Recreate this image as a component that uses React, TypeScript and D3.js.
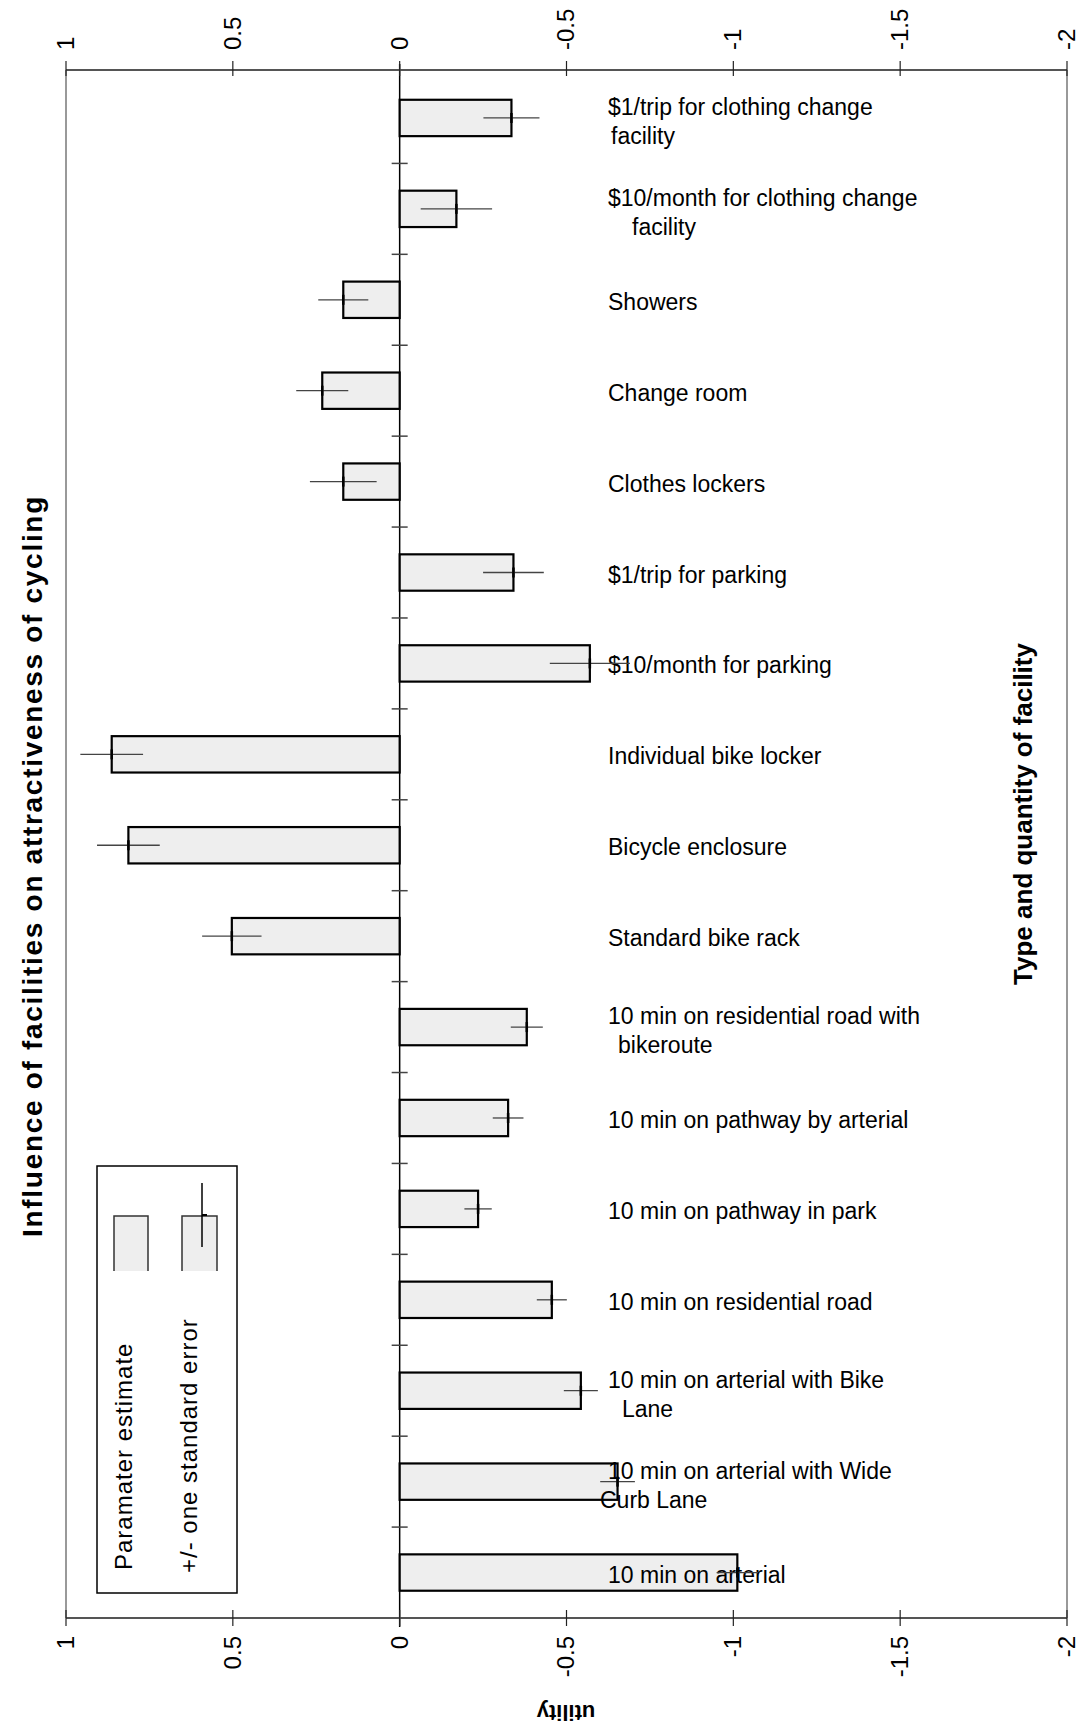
import React from 'react';
import * as d3 from 'd3';

// ---------- data ----------
const categories: string[] = [
  '$1/trip for clothing change|facility',
  '$10/month for clothing change|facility',
  'Showers',
  'Change room',
  'Clothes lockers',
  '$1/trip for parking',
  '$10/month for parking',
  'Individual bike locker',
  'Bicycle enclosure',
  'Standard bike rack',
  '10 min on residential road with|bikeroute',
  '10 min on pathway by arterial',
  '10 min on pathway in park',
  '10 min on residential road',
  '10 min on arterial with Bike|Lane',
  '10 min on arterial with Wide|Curb Lane',
  '10 min on arterial',
];
const estimates: number[] = [
  -0.335, -0.17, 0.169, 0.232, 0.169, -0.341, -0.57, 0.863, 0.813, 0.503,
  -0.381, -0.325, -0.235, -0.456, -0.543, -0.653, -1.012,
];
const stdErrors: number[] = [
  0.084, 0.107, 0.075, 0.078, 0.1, 0.091, 0.12, 0.094, 0.094, 0.089,
  0.048, 0.046, 0.041, 0.045, 0.051, 0.052, 0.062,
];
const tickValues: number[] = [1, 0.5, 0, -0.5, -1, -1.5, -2];
const tickLabels: string[] = ['1', '0.5', '0', '-0.5', '-1', '-1.5', '-2'];

const title = 'Influence of facilities on attractiveness of cycling';
const categoryTitle = 'Type and quantity of facility';
const valueTitle = 'utility';
const legendLabels = ['Paramater estimate', '+/- one standard error'];

// ---------- layout ----------
const W = 1078;
const H = 1733;
const left = 66;
const right = 1067;
const top = 70;
const bottom = 1618;
const bandTop = 72.5;
const secondLineDx = [3, 24, 0, 0, 0, 0, 0, 0, 0, 0, 10, 0, 0, 0, 14, -8, 0];
const FONT = '"Liberation Sans", Arial, Helvetica, sans-serif';

export default function App() {
  const x = d3.scaleLinear().domain([1, -2]).range([left, right]);
  const y = d3
    .scaleBand<number>()
    .domain(d3.range(categories.length))
    .range([bandTop, bottom])
    .padding(0);
  const bw = y.bandwidth();
  const barH = bw * 0.4;
  const x0 = x(0);
  const labelX = 608;

  return (
    <svg
      width={W}
      height={H}
      style={{ position: 'absolute', left: 0, top: 0, background: '#fff' }}
      fontFamily={FONT}
    >
      <rect x={0} y={0} width={W} height={H} fill="#fff" />
      {/* frame sides */}
      <line x1={left} x2={left} y1={top} y2={bottom} stroke="#999" strokeWidth={2} />
      <line x1={right} x2={right} y1={top} y2={bottom} stroke="#999" strokeWidth={2} />

      {/* zero line */}
      <line x1={x0} x2={x0} y1={top - 6} y2={bottom + 9} stroke="#000" strokeWidth={1.5} />

      {/* category ticks on zero line */}
      {d3.range(1, categories.length).map((i) => (
        <line
          key={'ct' + i}
          x1={x0 - 8}
          x2={x0 + 8}
          y1={y(i)!}
          y2={y(i)!}
          stroke="#444"
          strokeWidth={1.5}
        />
      ))}

      {/* bars */}
      {estimates.map((v, i) => {
        const cy = y(i)! + bw / 2;
        const xv = x(v);
        return (
          <rect
            key={'b' + i}
            x={Math.min(x0, xv)}
            y={cy - barH / 2}
            width={Math.abs(xv - x0)}
            height={barH}
            fill="#eeeeee"
            stroke="#000"
            strokeWidth={2.2}
          />
        );
      })}

      {/* category labels */}
      {categories.map((c, i) => {
        const cy = y(i)! + bw / 2;
        const lines = c.split('|');
        if (lines.length === 1) {
          return (
            <text key={'l' + i} x={labelX} y={cy + 10} fontSize={23} fill="#000">
              {lines[0]}
            </text>
          );
        }
        return (
          <g key={'l' + i}>
            <text x={labelX} y={cy - 3} fontSize={23} fill="#000">
              {lines[0]}
            </text>
            <text x={labelX + secondLineDx[i]} y={cy + 26} fontSize={23} fill="#000">
              {lines[1]}
            </text>
          </g>
        );
      })}

      {/* error bars */}
      {estimates.map((v, i) => {
        const cy = y(i)! + bw / 2;
        const se = stdErrors[i];
        return (
          <g key={'e' + i}>
            <line x1={x(v - se)} x2={x(v + se)} y1={cy} y2={cy} stroke="#444" strokeWidth={1.3} />
            <line x1={x(v)} x2={x(v)} y1={cy - 5} y2={cy + 5} stroke="#000" strokeWidth={2.5} />
          </g>
        );
      })}

      {/* top & bottom axes */}
      <line x1={left} x2={right} y1={top} y2={top} stroke="#555" strokeWidth={2} />
      <line x1={left} x2={right} y1={bottom} y2={bottom} stroke="#555" strokeWidth={2} />
      {tickValues.map((t, i) => (
        <g key={'t' + i}>
          <line x1={x(t)} x2={x(t)} y1={top - 9} y2={top + 6} stroke="#222" strokeWidth={1.2} />
          <line x1={x(t)} x2={x(t)} y1={bottom - 8} y2={bottom + 8} stroke="#222" strokeWidth={1.2} />
          <text
            transform={`translate(${x(t)},50) rotate(-90)`}
            textAnchor="start"
            dy="0.33em"
            fontSize={24}
            fill="#000"
          >
            {tickLabels[i]}
          </text>
          <text
            transform={`translate(${x(t)},1636) rotate(-90)`}
            textAnchor="end"
            dy="0.33em"
            fontSize={24}
            fill="#000"
          >
            {tickLabels[i]}
          </text>
        </g>
      ))}

      {/* titles */}
      <text
        transform="translate(42,866) rotate(-90)"
        textAnchor="middle"
        fontSize={28}
        letterSpacing={1.7}
        fontWeight="bold"
        fill="#000"
      >
        {title}
      </text>
      <text
        transform="translate(1032,814) rotate(-90)"
        textAnchor="middle"
        fontSize={26}
        fontWeight="bold"
        fill="#000"
      >
        {categoryTitle}
      </text>
      <text
        transform="translate(566,1713) rotate(180)"
        textAnchor="middle"
        dy="0.35em"
        fontSize={22}
        fontWeight="bold"
        fill="#000"
      >
        {valueTitle}
      </text>

      {/* legend */}
      <rect x={97} y={1166} width={140} height={427} fill="#fff" stroke="#000" strokeWidth={1.5} />
      <rect x={114} y={1216} width={34} height={55} fill="#eeeeee" stroke="none" />
      <path d="M114,1271 V1216 H148 V1271" fill="none" stroke="#333" strokeWidth={1.5} />
      <rect x={182} y={1216} width={35} height={55} fill="#eeeeee" stroke="none" />
      <path d="M182,1271 V1216 H217 V1271" fill="none" stroke="#333" strokeWidth={1.5} />
      <line x1={202} x2={202} y1={1183} y2={1247} stroke="#000" strokeWidth={1.5} />
      <line x1={202} x2={207} y1={1215} y2={1215} stroke="#000" strokeWidth={2} />
      <text
        transform="translate(132,1570) rotate(-90)"
        textAnchor="start"
        fontSize={24}
        letterSpacing={1}
        fill="#000"
      >
        {legendLabels[0]}
      </text>
      <text
        transform="translate(197,1573) rotate(-90)"
        textAnchor="start"
        fontSize={24}
        letterSpacing={1}
        fill="#000"
      >
        {legendLabels[1]}
      </text>
    </svg>
  );
}
